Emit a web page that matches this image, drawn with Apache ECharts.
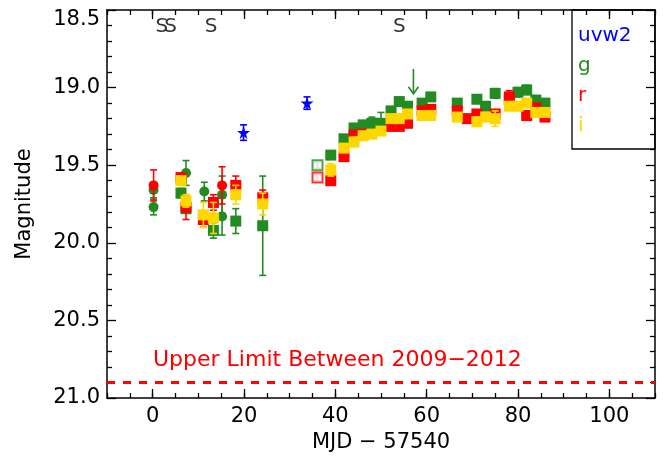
<!DOCTYPE html>
<html><head><meta charset="utf-8">
<script src="https://cdn.jsdelivr.net/npm/echarts@6/dist/echarts.min.js"></script>
<style>html,body{margin:0;padding:0;background:#fff}#c{width:665px;height:464px}</style>
</head><body><div id="c"></div>
<script>
const FONT = 'DejaVu Sans';
const xTickLabels = [0, 20, 40, 60, 80, 100];
const yTickLabels = [18.5, 19.0, 19.5, 20.0, 20.5, 21.0];

// [MJD-57540, magnitude, error]
const gCircle = [[0.2,19.66,0.05],[0.2,19.77,0.05],[7.3,19.55,0.08],[11.3,19.67,0.06],[15.2,19.69,0.12],[15.2,19.83,0.12]];
const rCircle = [[0.2,19.63,0.10],[15.2,19.63,0.12]];
const gSquare = [[6.2,19.68,0.03],[7.3,19.78,0.03],[13.3,19.92,0.05],[18.2,19.86,0.08],[24.1,19.89,0.32],
  [39.0,19.435,0.02],[41.9,19.33,0.02],[44.1,19.26,0.02],[46.1,19.24,0.02],[48.0,19.23,0.04],[50.0,19.23,0.07],
  [52.2,19.15,0.02],[54.0,19.09,0.02],[55.8,19.12,0.02],[59.0,19.10,0.02],[60.9,19.06,0.02],[66.7,19.10,0.02],
  [71.0,19.075,0.02],[72.9,19.12,0.02],[75.0,19.037,0.03],[78.1,19.075,0.02],[80.0,19.03,0.03],[81.9,19.015,0.03],
  [83.9,19.08,0.02],[85.9,19.10,0.02]];
const rSquare = [[6.2,19.58,0.03],[7.3,19.77,0.08],[11.1,19.85,0.05],[13.3,19.74,0.05],[18.2,19.63,0.06],[24.1,19.71,0.05],
  [39.0,19.60,0.02],[41.9,19.445,0.02],[44.1,19.305,0.02],[46.1,19.30,0.02],[52.2,19.25,0.02],[54.0,19.25,0.02],
  [55.8,19.23,0.02],[59.0,19.15,0.02],[60.9,19.14,0.02],[66.7,19.15,0.02],[68.9,19.20,0.02],[71.0,19.17,0.02],
  [75.0,19.17,0.02],[78.1,19.06,0.04],[81.9,19.18,0.03],[83.9,19.13,0.02],[85.9,19.19,0.02]];
const iSquare = [[6.2,19.60,0.03],[7.3,19.73,0.04],[11.1,19.82,0.08],[13.3,19.84,0.10],[18.2,19.69,0.06],[24.1,19.75,0.07],
  [39.0,19.53,0.04],[41.9,19.39,0.02],[44.1,19.35,0.03],[46.1,19.31,0.02],[48.0,19.30,0.02],[50.0,19.28,0.02],
  [52.2,19.20,0.02],[54.0,19.20,0.02],[55.8,19.17,0.02],[59.0,19.18,0.02],[60.9,19.18,0.02],[66.7,19.19,0.02],
  [71.0,19.22,0.03],[72.9,19.19,0.02],[75.0,19.20,0.05],[78.1,19.12,0.02],[80.0,19.12,0.02],[81.9,19.10,0.02],
  [83.9,19.16,0.02],[85.9,19.16,0.02]];
const gOpen = [[36.1,19.50,0.02]];
const rOpen = [[36.1,19.58,0.02]];
const uvw2 = [[19.9,19.29,0.05],[33.8,19.10,0.04]];
const gUpper = [[57.1,18.88,19.04]];
const upperLimit = 20.9;
const specEpochs = [2.0, 3.9, 12.8, 54.0];
const specMag = 18.61;

const C = {uvw2:'#0000ff', g:'#228B22', r:'#ff0000', i:'#FFD700'};
const STAR = 'path://M50,0 L61,35 L98,35 L68,57 L79,91 L50,70 L21,91 L32,57 L2,35 L39,35 Z';

function errSeries(name, data, color, z) {
  return {
    type:'custom', name:name, z:z, silent:true, clip:true,
    encode:{x:0, y:1},
    data:data,
    renderItem:(params, api) => {
      const x = api.value(0), m = api.value(1), e = api.value(2);
      const a = api.coord([x, m - e]), b = api.coord([x, m + e]);
      const w = 3.5, st = {stroke:color, lineWidth:1.6};
      return {type:'group', children:[
        {type:'line', shape:{x1:a[0], y1:a[1], x2:b[0], y2:b[1]}, style:st},
        {type:'line', shape:{x1:a[0]-w, y1:a[1], x2:a[0]+w, y2:a[1]}, style:st},
        {type:'line', shape:{x1:b[0]-w, y1:b[1], x2:b[0]+w, y2:b[1]}, style:st}
      ]};
    }
  };
}
function pts(name, data, symbol, size, color, z, extra) {
  return Object.assign({type:'scatter', name:name, data:data.map(d => [d[0], d[1]]), symbol:symbol,
    symbolSize:size, itemStyle:{color:color, opacity:1}, z:z, silent:true}, extra || {});
}

const axisLineStyle = {color:'#000', width:1.5};
const tickStyle = {color:'#000', width:1.3};
const txt = {fontFamily:FONT, fontSize:21, color:'#000'};

const option = {
  animation:false,
  backgroundColor:'#fff',
  grid:{left:107, right:10, top:10, bottom:66},
  legend:{orient:'vertical', left:573, top:26, itemGap:10, itemWidth:0, itemHeight:0, padding:0,
    selectedMode:false, itemStyle:{opacity:0},
    textStyle:{fontFamily:FONT, fontSize:20, lineHeight:20},
    data:[{name:'uvw2', textStyle:{color:C.uvw2}}, {name:'g', textStyle:{color:C.g}},
          {name:'r', textStyle:{color:C.r}}, {name:'i', textStyle:{color:C.i}}]},
  graphic:[
    {type:'rect', shape:{x:572, y:10, width:83, height:139}, style:{fill:'none', stroke:'#000', lineWidth:1.3}, z:100},
    {type:'text', left:153, top:349, style:{text:'Upper Limit Between 2009\u22122012', fill:'#ff0000', font:'22px "DejaVu Sans"'}, z:100}
  ],
  xAxis:[
    {type:'value', position:'bottom', min:-10, max:110, interval:5,
      axisLine:{show:true, onZero:false, lineStyle:axisLineStyle},
      axisTick:{show:true, inside:true, length:5, lineStyle:tickStyle},
      axisLabel:Object.assign({interval:0, margin:8, formatter:v => (v % 20 === 0 && v >= 0 && v <= 100) ? String(v) : ''}, txt),
      splitLine:{show:false},
      name:'MJD \u2212 57540', nameLocation:'middle', nameGap:33, nameTextStyle:txt},
    {type:'value', position:'bottom', min:-10, max:110,
      axisLine:{show:false, onZero:false}, axisLabel:{show:false}, splitLine:{show:false},
      axisTick:{show:true, inside:true, length:9, lineStyle:tickStyle, customValues:xTickLabels}},
    {type:'value', position:'top', min:-10, max:110, interval:5,
      axisLine:{show:true, onZero:false, lineStyle:axisLineStyle}, axisLabel:{show:false}, splitLine:{show:false},
      axisTick:{show:true, inside:true, length:5, lineStyle:tickStyle}},
    {type:'value', position:'top', min:-10, max:110,
      axisLine:{show:false, onZero:false}, axisLabel:{show:false}, splitLine:{show:false},
      axisTick:{show:true, inside:true, length:9, lineStyle:tickStyle, customValues:xTickLabels}}
  ],
  yAxis:[
    {type:'value', position:'left', inverse:true, min:18.5, max:21.0, interval:0.5,
      axisLine:{show:true, onZero:false, lineStyle:axisLineStyle},
      axisTick:{show:true, inside:true, length:9, lineStyle:tickStyle},
      minorTick:{show:true, splitNumber:5, length:5, lineStyle:tickStyle},
      splitLine:{show:false}, minorSplitLine:{show:false},
      axisLabel:Object.assign({margin:7,
        formatter:v => (Math.abs(v - yTickLabels[0]) < 1e-6 ? '{t|' + v.toFixed(1) + '}' : v.toFixed(1)),
        rich:{t:{fontFamily:FONT, fontSize:21, color:'#000', padding:[20,0,0,0]}}}, txt),
      name:'Magnitude', nameLocation:'middle', nameGap:72, nameTextStyle:txt},
    {type:'value', position:'right', inverse:true, min:18.5, max:21.0, interval:0.5,
      axisLine:{show:true, onZero:false, lineStyle:axisLineStyle},
      axisTick:{show:true, inside:true, length:9, lineStyle:tickStyle},
      minorTick:{show:true, splitNumber:5, length:5, lineStyle:tickStyle},
      splitLine:{show:false}, minorSplitLine:{show:false}, axisLabel:{show:false}}
  ],
  series:[
    {type:'line', name:'limit', data:[[-10, upperLimit],[110, upperLimit]], symbol:'none', silent:true, z:1,
      lineStyle:{color:'#ff0000', type:[8,8], width:3}},
    errSeries('g err', gCircle.concat(gSquare, gOpen), C.g, 2),
    pts('g', gCircle, 'circle', 10, C.g, 3),
    pts('g', gSquare, 'rect', 11, C.g, 3),
    pts('g', gOpen, 'emptyRect', 10, C.g, 3, {itemStyle:{color:C.g, borderColor:C.g, borderWidth:1.6}}),
    errSeries('r err', rCircle.concat(rSquare, rOpen), C.r, 4),
    pts('r', rCircle, 'circle', 10, C.r, 5),
    pts('r', rSquare, 'rect', 11, C.r, 5),
    pts('r', rOpen, 'emptyRect', 10, C.r, 5, {itemStyle:{color:C.r, borderColor:C.r, borderWidth:1.6}}),
    errSeries('i err', iSquare, C.i, 6),
    pts('i', iSquare, 'rect', 11, C.i, 7),
    errSeries('uvw2 err', uvw2, C.uvw2, 8),
    pts('uvw2', uvw2, STAR, 13, C.uvw2, 9),
    {type:'custom', name:'g limit', z:8, silent:true, encode:{x:0, y:1}, data:gUpper,
      renderItem:(params, api) => {
        const x = api.value(0);
        const a = api.coord([x, api.value(1)]), b = api.coord([x, api.value(2)]);
        const st = {stroke:C.g, lineWidth:1.6, fill:'none'};
        return {type:'group', children:[
          {type:'line', shape:{x1:a[0], y1:a[1], x2:b[0], y2:b[1]}, style:st},
          {type:'polyline', shape:{points:[[b[0]-5, b[1]-7], [b[0], b[1]], [b[0]+5, b[1]-7]]}, style:st}
        ]};
      }},
    {type:'scatter', name:'spectra', data:specEpochs.map(x => [x, specMag]), symbolSize:0, silent:true, z:10,
      label:{show:true, position:'inside', formatter:'S', fontFamily:FONT, fontSize:20, color:'#000'}}
  ]
};
const chart = echarts.init(document.getElementById('c'), null, {renderer:'canvas'});
chart.setOption(option);
</script>
</body></html>
